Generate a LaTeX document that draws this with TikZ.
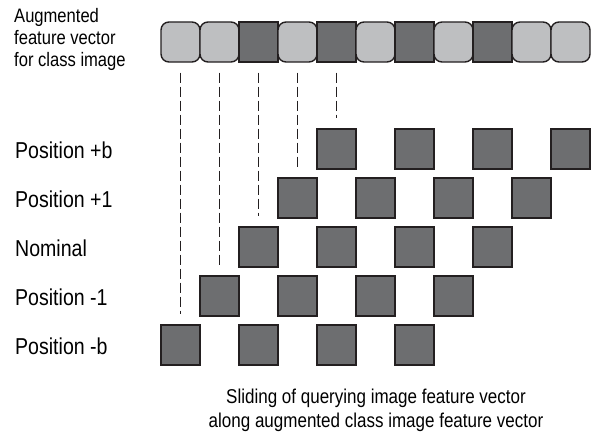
\documentclass[tikz,border=0pt]{standalone}
\usepackage{fontspec}
\setmainfont{Liberation Sans}[FakeStretch=0.85]
\usetikzlibrary{positioning, calc}

\definecolor{lightcell}{HTML}{BEBFC1}
\definecolor{darkcell}{HTML}{6D6E70}
\definecolor{edgecol}{HTML}{231F20}

\begin{document}
\begin{tikzpicture}[
    x=1pt, y=-1pt,
    cell/.style={rectangle, draw=edgecol, line width=1.4pt, minimum width=39pt, minimum height=40pt, inner sep=0pt},
    light/.style={cell, fill=lightcell, rounded corners=8pt},
    dark/.style={cell, fill=darkcell},
    rowlbl/.style={anchor=west, inner sep=0pt, font=\fontsize{23}{27}\selectfont},
    guide/.style={draw=edgecol, line width=0.7pt, dash pattern=on 10pt off 4pt}
]

% White background, fixes the page size
\path [fill=white] (0, 0) rectangle (591, 436);
\useasboundingbox (0, 0) rectangle (591, 436);

% ==================== CLASS IMAGE VECTOR ====================

\node[anchor=west, align=left, inner sep=0pt, font=\fontsize{19.5}{22}\selectfont] (augm) at (14, 39.5) {Augmented\\feature vector\\for class image};

\foreach \i/\s in {1/light, 2/light, 3/dark, 4/light, 5/dark, 6/light, 7/dark, 8/light, 9/dark, 10/light, 11/light}
    \node[\s] (v\i) at ({141.5+39*\i}, 42) {};

% ==================== SLIDING POSITIONS ====================

\foreach \r/\name/\txt in {0/mb/Position -b, 1/mone/Position -1, 2/nom/Nominal, 3/pone/Position +1, 4/pb/Position +b} {
    \node[rowlbl] (\name lbl) at (15, {346-49*\r}) {\txt};
    \foreach \j in {0,...,3}
        \node[dark] (\name\j) at ({180.5+39*\r+78*\j}, {345-49*\r}) {};
}

% Dashed guides from the vector down to each row start
\foreach \i/\name in {1/mb, 2/mone, 3/nom, 4/pone, 5/pb}
    \draw[guide] ([yshift=-10pt]v\i.south) -- ([yshift=10pt]\name0.north);

% Caption
\node[align=center, inner sep=0pt, font=\fontsize{20}{24}\selectfont] (caption) at (376, 410) {Sliding of querying image feature vector\\along augmented class image feature vector};

\end{tikzpicture}
\end{document}
